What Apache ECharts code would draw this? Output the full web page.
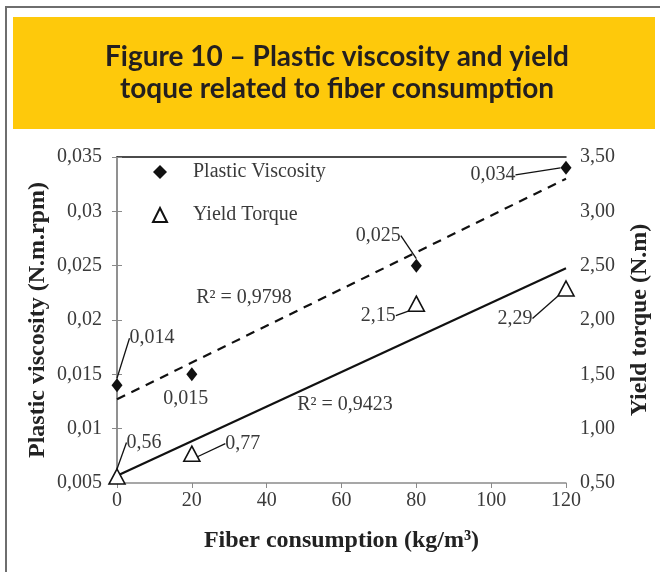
<!DOCTYPE html>
<html><head><meta charset="utf-8">
<script src="https://cdn.jsdelivr.net/npm/echarts@6/dist/echarts.min.js"></script>
<style>html,body{margin:0;padding:0;background:#fff}#c{width:660px;height:572px}</style>
</head><body><div id="c"></div>
<script>
// ---- data ----
const fiber = [0, 20, 80, 120];
const plasticViscosity = [0.014, 0.015, 0.025, 0.034];
const yieldTorque = [0.56, 0.77, 2.15, 2.29];
const trendX = [0, 120];
const pvTrend = [0.0127, 0.0330];
const ytTrend = [0.567, 2.477];
const pvLabels = ['0,014', '0,015', '0,025', '0,034'];
const ytLabels = ['0,56', '0,77', '2,15', '2,29'];
const r2Labels = ['R² = 0,9798', 'R² = 0,9423'];
const seriesNames = ['Plastic Viscosity', 'Yield Torque'];
const titleLines = ['Figure 10 – Plastic viscosity and yield', 'toque related to fiber consumption'];

// ---- layout (label offsets from point centre, px) ----
const pvOffsets = [[35, -47], [-6, 24], [-38, -30], [-73, 7]];
const ytOffsets = [[27, -34], [51, -10], [-38, 12], [-51, 30]];
const pvLeader = [true, false, true, true];
const ytLeader = [true, true, true, true];

const SERIF = '"Liberation Serif","DejaVu Serif",serif';
const lblColor = '#3a3a3a';

function pts(xs, ys, labels, leaders) {
  return xs.map((x, i) => ({
    value: [x, ys[i]],
    label: { formatter: labels[i] },
    labelLine: { show: leaders[i] }
  }));
}

const chart = echarts.init(document.getElementById('c'), null, { renderer: 'canvas' });
chart.setOption({
  backgroundColor: '#fff',
  animation: false,
  graphic: [
    { type: 'rect', shape: { x: 6, y: 7, width: 700, height: 620 }, style: { fill: 'none', stroke: '#6e6e6e', lineWidth: 2 }, z: 0 },
    { type: 'rect', shape: { x: 13, y: 17, width: 642, height: 112 }, style: { fill: '#FEC90B' }, z: 0 },
    { type: 'text', x: 337, y: 57, style: { text: titleLines[0], font: 'bold 28px Lato, sans-serif', fill: '#231f20', textAlign: 'center', textVerticalAlign: 'middle' }, z: 1 },
    { type: 'text', x: 337, y: 89, style: { text: titleLines[1], font: 'bold 28px Lato, sans-serif', fill: '#231f20', textAlign: 'center', textVerticalAlign: 'middle' }, z: 1 },
    { type: 'text', x: 244, y: 298, style: { text: r2Labels[0], font: '20px ' + SERIF, fill: lblColor, textAlign: 'center', textVerticalAlign: 'middle' }, z: 5 },
    { type: 'text', x: 345, y: 405, style: { text: r2Labels[1], font: '20px ' + SERIF, fill: lblColor, textAlign: 'center', textVerticalAlign: 'middle' }, z: 5 }
  ],
  legend: {
    orient: 'vertical',
    left: 147, top: 157,
    itemWidth: 14, itemHeight: 14,
    itemGap: 23,
    data: seriesNames,
    textStyle: { fontFamily: SERIF, fontSize: 20, color: lblColor, padding: [0, 0, 0, 21] }
  },
  grid: { left: 117, right: 94, top: 157, bottom: 89, containLabel: false },
  xAxis: [{
    type: 'value', min: 0, max: 120, interval: 20,
    axisLine: { lineStyle: { color: '#8a8a8a', width: 1.5 } },
    axisTick: { show: true, length: 5, lineStyle: { color: '#8a8a8a' } },
    splitLine: { show: false },
    axisLabel: { fontFamily: SERIF, fontSize: 20, color: lblColor, margin: 8 },
    name: 'Fiber consumption (kg/m³)', nameLocation: 'middle', nameGap: 46, nameMoveOverlap: false,
    nameTextStyle: { fontFamily: SERIF, fontSize: 24, fontWeight: 'bold', color: '#222' }
  }, {
    type: 'value', min: 0, max: 120, position: 'top',
    axisLine: { lineStyle: { color: '#111', width: 1.5 } },
    axisTick: { show: false }, axisLabel: { show: false }, splitLine: { show: false }
  }],
  yAxis: [{
    type: 'value', min: 0.005, max: 0.035, interval: 0.005,
    axisLine: { show: true, lineStyle: { color: '#8a8a8a', width: 1.5 } },
    axisTick: { show: true, length: 5, lineStyle: { color: '#8a8a8a' } },
    splitLine: { show: false },
    axisLabel: { fontFamily: SERIF, fontSize: 20, color: lblColor, margin: 15,
      formatter: v => String(+v.toFixed(3)).replace('.', ',') },
    name: 'Plastic viscosity (N.m.rpm)', nameLocation: 'middle', nameRotate: 90, nameGap: 67, nameMoveOverlap: false,
    nameTextStyle: { fontFamily: SERIF, fontSize: 24, fontWeight: 'bold', color: '#222' }
  }, {
    type: 'value', min: 0.5, max: 3.5, interval: 0.5, position: 'right',
    axisLine: { show: true, lineStyle: { color: '#8a8a8a', width: 1.5 } },
    axisTick: { show: true, length: 5, lineStyle: { color: '#8a8a8a' } },
    splitLine: { show: false },
    axisLabel: { fontFamily: SERIF, fontSize: 20, color: lblColor, margin: 14,
      formatter: v => v.toFixed(2).replace('.', ',') },
    name: 'Yield torque (N.m)', nameLocation: 'middle', nameRotate: 90, nameGap: 62, nameMoveOverlap: false,
    nameTextStyle: { fontFamily: SERIF, fontSize: 24, fontWeight: 'bold', color: '#222' }
  }],
  series: [
    {
      name: 'PV trend', type: 'line', xAxisIndex: 0, yAxisIndex: 0, silent: true,
      data: trendX.map((x, i) => [x, pvTrend[i]]), showSymbol: false, symbol: 'none',
      lineStyle: { color: '#111', width: 2.2, type: [9, 7] }, z: 2
    },
    {
      name: 'YT trend', type: 'line', xAxisIndex: 0, yAxisIndex: 1, silent: true,
      data: trendX.map((x, i) => [x, ytTrend[i]]), showSymbol: false, symbol: 'none',
      lineStyle: { color: '#111', width: 2.2 }, z: 2
    },
    {
      name: seriesNames[0], type: 'scatter', xAxisIndex: 0, yAxisIndex: 0,
      symbol: 'diamond', symbolSize: [11, 14],
      itemStyle: { color: '#111', opacity: 1 },
      data: pts(fiber, plasticViscosity, pvLabels, pvLeader),
      label: { show: true, position: 'inside', fontFamily: SERIF, fontSize: 20, color: lblColor },
      labelLine: { show: false, lineStyle: { color: '#111', width: 1.3 } },
      labelLayout: p => ({ dx: pvOffsets[p.dataIndex][0], dy: pvOffsets[p.dataIndex][1] }),
      z: 4
    },
    {
      name: seriesNames[1], type: 'scatter', xAxisIndex: 0, yAxisIndex: 1,
      symbol: 'triangle', symbolSize: [16, 15],
      itemStyle: { color: '#fff', borderColor: '#111', borderWidth: 1.6, opacity: 1 },
      data: pts(fiber, yieldTorque, ytLabels, ytLeader),
      label: { show: true, position: 'inside', fontFamily: SERIF, fontSize: 20, color: lblColor },
      labelLine: { show: false, lineStyle: { color: '#111', width: 1.3 } },
      labelLayout: p => ({ dx: ytOffsets[p.dataIndex][0], dy: ytOffsets[p.dataIndex][1] }),
      z: 4
    }
  ]
});
</script></body></html>
